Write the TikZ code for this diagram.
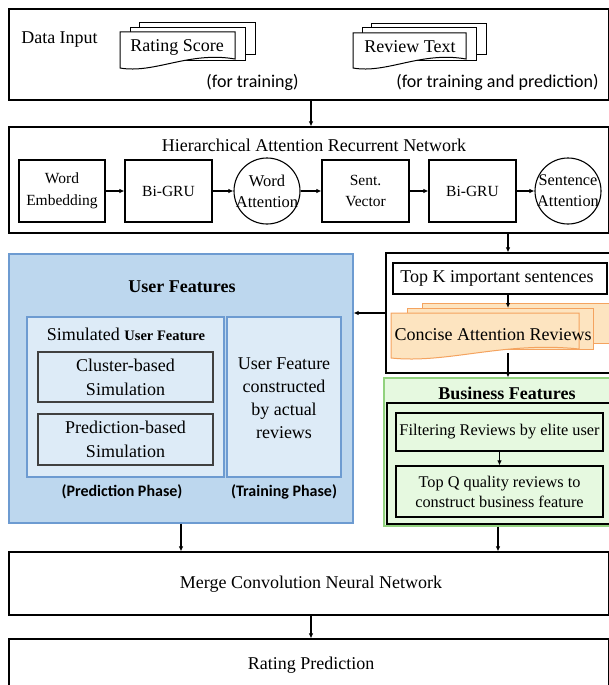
\documentclass[tikz,border=0pt]{standalone}
\usepackage{fontspec}
\setmainfont{Liberation Serif}
\newfontfamily\calibri{Carlito}
\usepackage{tikz}
\usetikzlibrary{arrows.meta}

\definecolor{userfill}{HTML}{BDD7EE}
\definecolor{userline}{HTML}{6D9BD1}
\definecolor{subfill}{HTML}{DDEBF7}
\definecolor{docfill}{HTML}{FDE4C0}
\definecolor{docline}{HTML}{F4A35F}
\definecolor{bizfill}{HTML}{E6F9E0}
\definecolor{bizline}{HTML}{92D27E}

\newcommand{\fmain}{\fontsize{18}{23}\selectfont}
\newcommand{\fmid}{\fontsize{16.3}{20}\selectfont}
\newcommand{\fsmall}{\fontsize{15.5}{21.5}\selectfont}

% sheet with a wavy lower edge
\newcommand{\docsheet}[6]{%
  \filldraw[fill=#1, draw=#2, line width=1pt] (#3,#4) -- (#5,#4) -- (#5,#6-9)
    .. controls ({#5-0.4*(#5-#3)},#6-17) and ({#3+0.3*(#5-#3)},#6+6) .. (#3,#6) -- cycle;}

\begin{document}
\begin{tikzpicture}[x=1pt, y=-1pt,
  frame/.style={draw, line width=1.1pt, inner sep=0pt},
  unit/.style={draw, line width=1.1pt, inner sep=0pt, align=center, font=\fsmall},
  attn/.style={draw, circle, line width=1.1pt, inner sep=0pt, minimum size=66pt},
  arr/.style={-{Latex[length=5pt,width=4.5pt]}, line width=1.2pt}]
\useasboundingbox (0,0) rectangle (608,685);

% data input
\node[frame, minimum width=600pt, minimum height=91pt] (input) at (309,54.5) {};
\node[font=\fmain] (inlabel) at (59.5,40) {Data Input};
\filldraw[fill=white, line width=1pt] (139,23) rectangle (255,55);
\filldraw[fill=white, line width=1pt] (130,28) rectangle (245,61);
\docsheet{white}{black}{120}{32}{235}{68}
\node[font=\fmain] (score) at (177,47) {Rating Score};
\filldraw[fill=white, line width=1pt] (371,24) rectangle (486,55);
\filldraw[fill=white, line width=1pt] (362,28) rectangle (476,61);
\docsheet{white}{black}{353}{33}{466}{68}
\node[font=\fmain] (review) at (410,47) {Review Text};
\node[font=\calibri\fontsize{18}{22}\selectfont] (fortrain) at (252.5,82) {(for training)};
\node[font=\calibri\fontsize{18}{22}\selectfont] (forboth) at (497.5,82) {(for training and prediction)};

% hierarchical attention network
\node[frame, minimum width=600pt, minimum height=106pt] (harn) at (309,180) {};
\node[font=\fmain] (harntitle) at (314,145) {Hierarchical Attention Recurrent Network};
\node[unit, minimum width=86pt, minimum height=62pt] (embed) at (62,191) {Word\\Embedding};
\node[unit, minimum width=87pt, minimum height=62pt] (gruw) at (168.5,191) {Bi-GRU};
\node[attn, label={[font=\fontsize{16.5}{21}\selectfont, align=center]center:Word\\Attention}] (wattn) at (267,191) {};
\node[unit, minimum width=87pt, minimum height=62pt] (svec) at (365.5,191) {Sent.\\Vector};
\node[unit, minimum width=87pt, minimum height=62pt] (grus) at (472.5,191) {Bi-GRU};
\node[attn, label={[font=\fontsize{16.3}{21}\selectfont, align=center]center:Sentence\\Attention}] (sattn) at (568,191) {};
\draw[arr] (embed) -- (gruw);
\draw[arr] (gruw) -- (wattn);
\draw[arr] (wattn) -- (svec);
\draw[arr] (svec) -- (grus);
\draw[arr] (grus) -- (sattn);

% user features
\node[frame, draw=userline, fill=userfill, minimum width=344pt, minimum height=269pt] (userf) at (181,388.5) {};
\node[font=\fmain\bfseries] (usertitle) at (182,287) {User Features};
\node[frame, draw=userline, fill=subfill, minimum width=197pt, minimum height=160pt] (simbox) at (125.5,397) {};
\node[frame, draw=userline, fill=subfill, minimum width=114pt, minimum height=160pt] (actbox) at (284,397) {};
\node (simtitle) at (126,334) {\fmain Simulated \fontsize{14.5}{18}\selectfont\bfseries User Feature};
\node[frame, draw=black!75, fill=subfill, minimum width=175pt, minimum height=50pt, align=center, font=\fontsize{18}{24}\selectfont] (cluster) at (125.5,377) {Cluster-based\\Simulation};
\node[frame, draw=black!75, fill=subfill, minimum width=175pt, minimum height=51pt, align=center, font=\fontsize{18}{24}\selectfont] (predsim) at (125.5,439.5) {Prediction-based\\Simulation};
\node[align=center, font=\fontsize{18}{23}\selectfont] (actual) at (284,398) {User Feature\\constructed\\by actual\\reviews};
\node[font=\calibri\bfseries\fontsize{16}{20}\selectfont] (predphase) at (122,492) {(Prediction Phase)};
\node[font=\calibri\bfseries\fontsize{16}{20}\selectfont] (trainphase) at (284,492) {(Training Phase)};

% top k sentences
\node[frame, fill=white, minimum width=224pt, minimum height=120pt] (kbox) at (498,313) {};
\node[frame, minimum width=214pt, minimum height=31pt, font=\fmain] (topk) at (500,278.5) {\hspace{-6pt}Top K important sentences};
\filldraw[fill=docfill, draw=docline, line width=1pt] (422,303) rectangle (614,343);
\filldraw[fill=docfill, draw=docline, line width=1pt] (407,308) rectangle (593,349);
\docsheet{docfill}{docline}{391}{313}{579}{358}
\node[font=\fmain] (concise) at (493,335) {Concise Attention Reviews};
\coordinate (ktop) at (508,308);
\coordinate (kbot) at (508,353);

% business features
\node[frame, draw=bizline, fill=bizfill, minimum width=228pt, minimum height=148pt] (bizf) at (498,452) {};
\node[font=\fmain\bfseries] (biztitle) at (507,393) {Business Features};
\node[frame, minimum width=225pt, minimum height=121pt] (bizin) at (499.5,463.5) {};
\node[frame, fill=bizfill, minimum width=207pt, minimum height=38pt, font=\fmid] (filter) at (499.5,432) {Filtering Reviews by elite user};
\node[frame, fill=bizfill, minimum width=207pt, minimum height=51pt, align=center, font=\fmid] (topq) at (499.5,491.5) {Top Q quality reviews to\\construct business feature};

% merge and output
\node[frame, minimum width=600pt, minimum height=63pt] (merge) at (309,583.5) {};
\node[font=\fmain] (mergetext) at (311,584) {Merge Convolution Neural Network};
\node[frame, minimum width=600pt, minimum height=52pt] (rating) at (309,665) {};
\node[font=\fmain] (ratingtext) at (311,665) {Rating Prediction};

\coordinate (midcol) at (311,0);
\draw[arr] (input.south -| midcol) -- (harn.north -| midcol);
\draw[arr] (harn.south -| ktop) -- (kbox.north -| ktop);
\draw[arr] (topk.south -| ktop) -- (ktop);
\draw[arr] (kbot) -- (bizf.north -| kbot);
\draw[arr] (kbox.west) -- (kbox.west -| userf.east);
\draw[arr] (filter) -- (topq);
\draw[arr] (userf) -- (merge.north -| userf);
\draw[arr] (bizf) -- (merge.north -| bizf);
\draw[arr] (merge.south -| midcol) -- (rating.north -| midcol);
\end{tikzpicture}
\end{document}
